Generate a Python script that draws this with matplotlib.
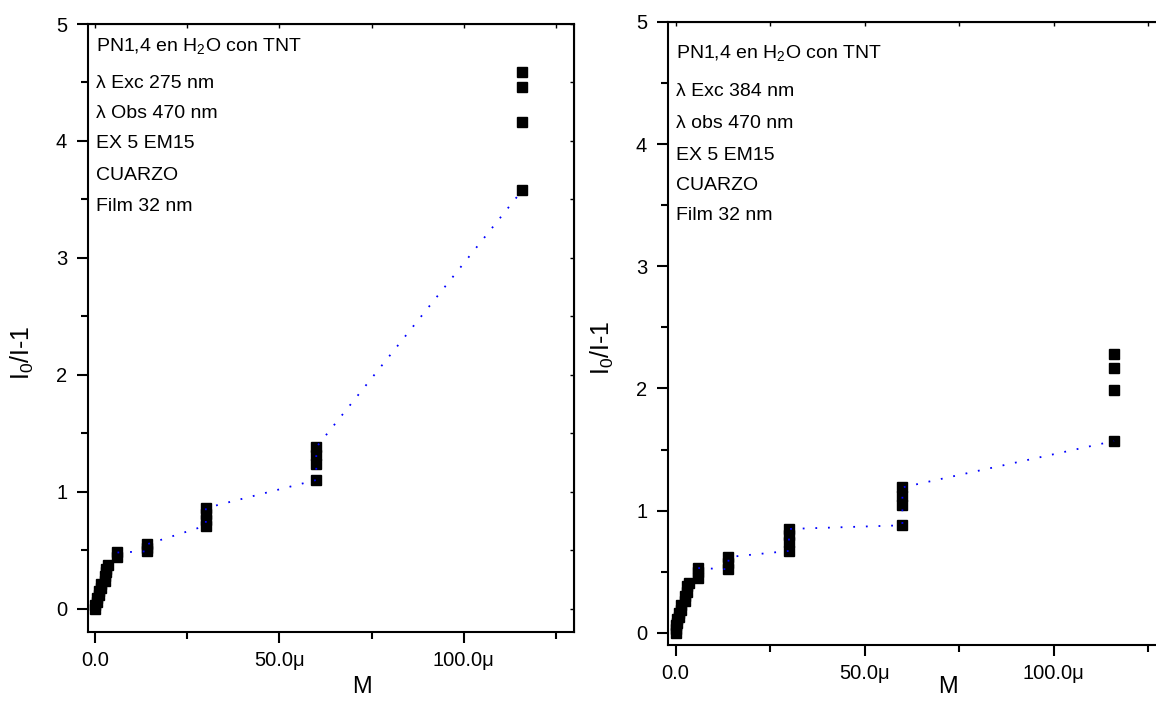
import matplotlib
matplotlib.use('Agg')
import matplotlib.pyplot as plt
import matplotlib.ticker as mticker

plt.rcParams['font.family'] = ['Liberation Sans', 'DejaVu Sans']
plt.rcParams['mathtext.fontset'] = 'custom'
plt.rcParams['mathtext.rm'] = 'Liberation Sans'
plt.rcParams['mathtext.default'] = 'regular'

# concentrations in micromolar (μM)
left_x = [0, 0, 0.5, 0.5, 1, 1, 1.5, 1.5, 2.5, 2.5, 3, 3, 3.5, 6, 6,
          14, 14, 14, 30, 30, 30, 30, 60, 60, 60, 60, 116, 116, 116, 116]
left_y = [0.0, 0.03, 0.06, 0.09, 0.12, 0.15, 0.18, 0.21, 0.24, 0.28, 0.31, 0.34, 0.37, 0.44, 0.48,
          0.49, 0.52, 0.55, 0.71, 0.76, 0.81, 0.86, 1.10, 1.24, 1.31, 1.38, 3.58, 4.16, 4.46, 4.59]
left_line_x = [6, 14, 14, 30, 30, 60, 60, 116]
left_line_y = [0.48, 0.49, 0.55, 0.71, 0.86, 1.10, 1.38, 3.58]
left_notes = ['PN1,4 en H$_2$O con TNT', 'λ Exc 275 nm', 'λ Obs 470 nm',
              'EX 5 EM15', 'CUARZO', 'Film 32 nm']

right_x = [0, 0, 0, 0.5, 0.5, 1, 1, 1.5, 1.5, 2.5, 2.5, 3, 3, 3.5, 6, 6, 6,
           14, 14, 14, 30, 30, 30, 30, 60, 60, 60, 60, 116, 116, 116, 116]
right_y = [0.0, 0.03, 0.06, 0.08, 0.11, 0.13, 0.16, 0.19, 0.23, 0.26, 0.30, 0.33, 0.38, 0.41, 0.45, 0.50, 0.53,
           0.52, 0.57, 0.62, 0.67, 0.74, 0.80, 0.85, 0.88, 1.05, 1.12, 1.19, 1.57, 1.99, 2.17, 2.28]
right_line_x = [6, 14, 14, 30, 30, 60, 60, 116]
right_line_y = [0.53, 0.52, 0.62, 0.67, 0.85, 0.88, 1.19, 1.57]
right_notes = ['PN1,4 en H$_2$O con TNT', 'λ Exc 384 nm', 'λ obs 470 nm',
               'EX 5 EM15', 'CUARZO', 'Film 32 nm']


def micro_fmt(v, pos):
    if abs(v) < 1e-9:
        return '0.0'
    return '%.1fμ' % v


def setup_axes(ax, ymin):
    ax.set_xlim(-2, 130)
    ax.set_ylim(ymin, 5)
    for s in ax.spines.values():
        s.set_linewidth(1.5)
    ax.xaxis.set_major_locator(mticker.MultipleLocator(50))
    ax.xaxis.set_minor_locator(mticker.MultipleLocator(25))
    ax.yaxis.set_major_locator(mticker.MultipleLocator(1))
    ax.yaxis.set_minor_locator(mticker.MultipleLocator(0.5))
    ax.xaxis.set_major_formatter(mticker.FuncFormatter(micro_fmt))
    ax.tick_params(which='major', direction='out', length=8, width=1.5, labelsize=14.5)
    ax.tick_params(which='minor', direction='out', length=5, width=1.5)
    ax.tick_params(axis='x', pad=6)
    ax.tick_params(axis='y', pad=7)
    # small inward ticks on top and right
    top = ax.secondary_xaxis('top')
    top.xaxis.set_major_locator(mticker.MultipleLocator(25))
    top.xaxis.set_major_formatter(mticker.NullFormatter())
    top.tick_params(direction='in', length=3, width=1)
    right = ax.secondary_yaxis('right')
    right.yaxis.set_major_locator(mticker.MultipleLocator(0.5))
    right.yaxis.set_major_formatter(mticker.NullFormatter())
    right.tick_params(direction='in', length=3, width=1)
    ax.set_xlabel('M', fontsize=17)
    ax.set_ylabel('I$_0$/I-1', fontsize=18)


def draw_panel(ax, xs, ys, lx, ly, notes, note_y):
    ax.plot(xs, ys, linestyle='none', marker='s', markersize=7.8,
            color='black', zorder=3)
    ax.plot(lx, ly, color='blue', linestyle=(0, (1, 6)), linewidth=1.3, zorder=4)
    for txt, yy in zip(notes, note_y):
        ax.text(0.016, yy, txt, transform=ax.transAxes, fontsize=14,
                ha='left', va='center')


fig = plt.figure(figsize=(11.56, 7.04), dpi=100)

ax1 = fig.add_axes([88 / 1156, 1 - 632 / 704, 486 / 1156, 608 / 704])
setup_axes(ax1, -0.2)
left_note_y = [1 - (p - 24) / 608 for p in [46, 83, 114, 144, 175, 206]]
draw_panel(ax1, left_x, left_y, left_line_x, left_line_y, left_notes, left_note_y)
ax1.xaxis.set_label_coords(0.564, -0.072)
ax1.yaxis.set_label_coords(-0.107, 0.46)

ax2 = fig.add_axes([668 / 1156, 1 - 645 / 704, 499 / 1156, 623 / 704])
setup_axes(ax2, -0.1)
right_note_y = [1 - (p - 22) / 623 for p in [53, 92, 124, 155, 186, 216]]
draw_panel(ax2, right_x, right_y, right_line_x, right_line_y, right_notes, right_note_y)
ax2.xaxis.set_label_coords(0.561, -0.050)
ax2.yaxis.set_label_coords(-0.104, 0.477)

fig.savefig('out.png', dpi=100)
